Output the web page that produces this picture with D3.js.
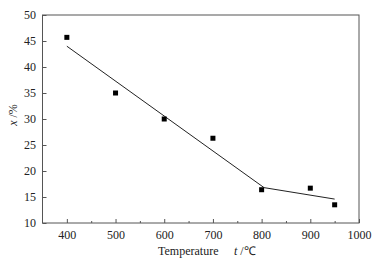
<!DOCTYPE html>
<html><head><meta charset="utf-8">
<script src="https://cdn.jsdelivr.net/npm/d3@7"></script>
<style>body{margin:0;background:#fff}svg{display:block}svg text{font-family:"Liberation Serif","Times New Roman",serif !important}</style>
</head><body>
<script>
const temps = [400, 500, 600, 700, 800, 900, 950];
const xValues = [45.7, 35.0, 30.0, 26.3, 16.4, 16.7, 13.5];
const fitTemps = [400, 805, 950];
const fitValues = [44.0, 16.8, 14.6];
const xTicks = [400, 500, 600, 700, 800, 900, 1000];
const yTicks = [10, 15, 20, 25, 30, 35, 40, 45, 50];

const W = 378, H = 265;
const m = {l: 42.5, r: 359, t: 15, b: 223};
const svg = d3.select("body").append("svg").attr("width", W).attr("height", H);
const x = d3.scaleLinear().domain([350, 1000]).range([m.l, m.r]);
const y = d3.scaleLinear().domain([10, 50]).range([m.b, m.t]);

// frame
svg.append("rect").attr("x", m.l).attr("y", m.t).attr("width", m.r - m.l).attr("height", m.b - m.t)
  .attr("fill", "none").attr("stroke", "#555").attr("stroke-width", 1);

// x axis
const gx = svg.append("g").attr("transform", `translate(0,${m.b})`)
  .call(d3.axisBottom(x).tickValues(xTicks).tickSizeInner(-4).tickSizeOuter(0).tickPadding(7).tickFormat(d3.format("d")));
gx.select(".domain").remove();
svg.append("g").attr("transform", `translate(0,${m.b})`)
  .call(d3.axisBottom(x).tickValues(d3.range(450, 1000, 100)).tickSizeInner(-2).tickSizeOuter(0).tickFormat(""))
  .select(".domain").remove();
// y axis
const gy = svg.append("g").attr("transform", `translate(${m.l},0)`)
  .call(d3.axisLeft(y).tickValues(yTicks).tickSizeInner(-4).tickSizeOuter(0).tickPadding(6.5));
gy.select(".domain").remove();
svg.selectAll("g").attr("font-family", '"Liberation Serif", serif').attr("font-size", 12);
svg.selectAll(".tick text").attr("fill", "#222");
svg.selectAll(".tick line").attr("stroke", "#555");

// fit line
svg.append("path").datum(fitTemps.map((t, i) => [t, fitValues[i]]))
  .attr("d", d3.line().x(d => x(d[0])).y(d => y(d[1])))
  .attr("fill", "none").attr("stroke", "#222").attr("stroke-width", 1);

// points
svg.selectAll("rect.pt").data(temps).enter().append("rect").attr("class", "pt")
  .attr("x", (d) => x(d) - 2.5).attr("y", (d, i) => y(xValues[i]) - 2.5)
  .attr("width", 5).attr("height", 5).attr("fill", "#000");

// labels
const xl = svg.append("text").attr("x", 158).attr("y", 255).attr("font-size", 12).attr("fill", "#222");
xl.append("tspan").text("Temperature");
xl.append("tspan").attr("x", 234).attr("font-style", "italic").text("t");
xl.append("tspan").text(" /℃");

const yl = svg.append("text").attr("transform", "translate(17,115) rotate(-90)")
  .attr("text-anchor", "middle").attr("font-size", 12).attr("fill", "#222");
yl.append("tspan").attr("font-style", "italic").text("x");
yl.append("tspan").text(" /%");
</script>
</body></html>
